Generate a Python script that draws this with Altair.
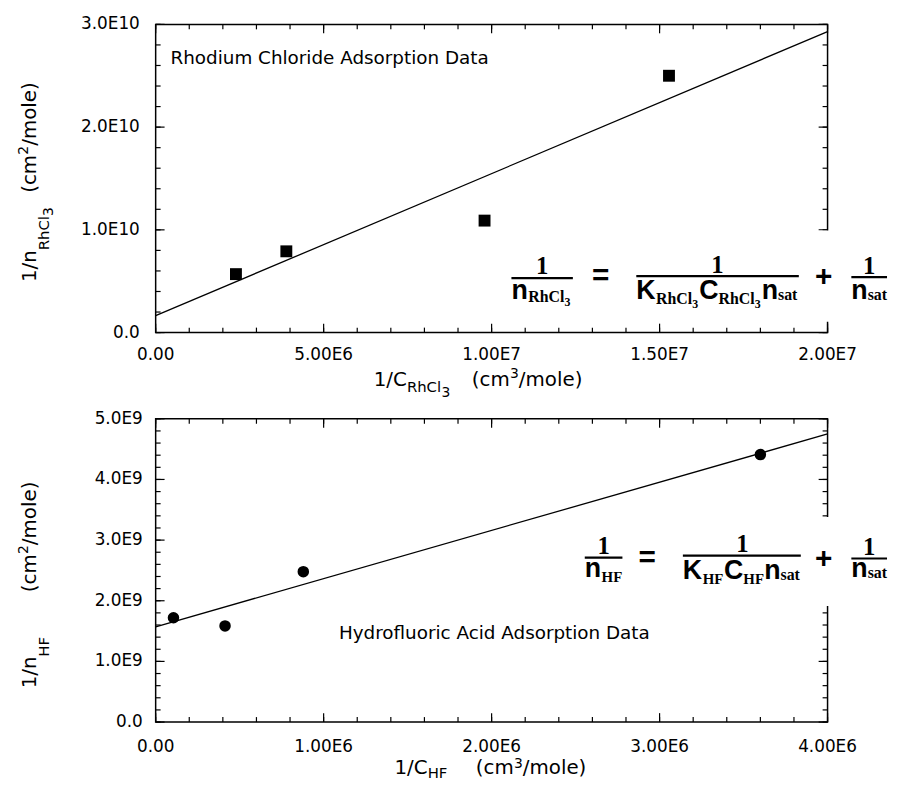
import altair as alt
import pandas as pd

# ---------------- data ----------------
rh_x = [2.39e6, 3.89e6, 9.79e6, 1.528e7]
rh_y = [5.69e9, 7.91e9, 1.09e10, 2.50e10]
rh_fit_x = [0.0, 2.0e7]
rh_fit_y = [1.65e9, 2.93e10]

hf_x = [1.06e5, 4.13e5, 8.79e5, 3.60e6]
hf_y = [1.72e9, 1.585e9, 2.48e9, 4.41e9]
hf_fit_x = [0.0, 4.0e6]
hf_fit_y = [1.57e9, 4.75e9]

rh_xticks = [0.0, 5e6, 1e7, 1.5e7, 2e7]
rh_xlabels = ["0.00", "5.00E6", "1.00E7", "1.50E7", "2.00E7"]
rh_yticks = [0.0, 1e10, 2e10, 3e10]
rh_ylabels = ["0.0", "1.0E10", "2.0E10", "3.0E10"]
hf_xticks = [0.0, 1e6, 2e6, 3e6, 4e6]
hf_xlabels = ["0.00", "1.00E6", "2.00E6", "3.00E6", "4.00E6"]
hf_yticks = [0.0, 1e9, 2e9, 3e9, 4e9, 5e9]
hf_ylabels = ["0.0", "1.0E9", "2.0E9", "3.0E9", "4.0E9", "5.0E9"]
rh_minor = (1e6, 2e9)
hf_minor = (2e5, 2e8)

rh_note = "Rhodium Chloride Adsorption Data"
hf_note = "Hydrofluoric Acid Adsorption Data"

# ---------------- layout ----------------
W = 678
H_TOP = 311
H_BOT = 306
O_TOP = (155, 20)
O_BOT = (155, 418)
GAP = O_BOT[1] - (O_TOP[1] + H_TOP)

MAIN = "DejaVu Sans"
EQ_SANS = "Liberation Sans"
EQ_SERIF = "Liberation Serif"
TICK_FS = 17

rh_note_pos = (4.42e5, 2.614e10)
hf_note_pos = (1.091e6, 1.373e9)

# text pieces in page pixel coordinates: (text, x, y, fontsize)
rh_ytitle = [("1/n", 34, 280, 20), ("RhCl", 47, 248, 15), ("3", 51, 213.4, 14),
             ("(cm", 34, 190, 20), ("2", 26, 151.5, 14), ("/mole)", 34, 142.5, 20)]
hf_ytitle = [("1/n", 34, 690, 20), ("HF", 47, 658, 15),
             ("(cm", 34, 593, 20), ("2", 26, 554.5, 14), ("/mole)", 34, 545.5, 20)]
rh_xtitle = [("1/C", 375, 385, 20), ("RhCl", 408.5, 391, 15), ("3", 443.5, 396, 14),
             ("(cm", 474, 385, 20), ("3", 512.5, 377, 14), ("/mole)", 521.5, 385, 20)]
hf_xtitle = [("1/C", 396, 776, 20), ("HF", 429.5, 780, 15),
             ("(cm", 478, 776, 20), ("3", 516.5, 770, 14), ("/mole)", 525.5, 776, 20)]

rh_eq = {
    "sans": [("n", 514, 297, 27), ("K", 640, 297, 27), ("C", 703.5, 297, 27),
             ("n", 766.5, 297, 27), ("n", 857, 297, 27)],
    "serif": [("RhCl", 531, 300, 16), ("3", 567.5, 304, 12), ("RhCl", 660, 302, 16),
              ("3", 696.5, 306, 12), ("RhCl", 723, 302, 16), ("3", 759.5, 306, 12),
              ("sat", 783, 298, 16), ("sat", 873.5, 298, 16)],
    "num": [("1", 545, 272, 25), ("1", 722, 271, 25), ("1", 875, 272, 25)],
    "ops": [("=", 604, 283, 30), ("+", 829, 284, 30)],
    "bars": [(514, 576, 276), (640, 804, 274), (857, 893, 275)],
    "box": (505, 228, 893, 320),
}
hf_eq = {
    "sans": [("n", 588, 578, 27), ("K", 687, 580, 27), ("C", 728.5, 580, 27),
             ("n", 769, 580, 27), ("n", 857, 578, 27)],
    "serif": [("HF", 605, 583, 15), ("HF", 707, 585, 15), ("HF", 748, 585, 15),
              ("sat", 785.5, 581, 16), ("sat", 873.5, 579, 16)],
    "num": [("1", 607, 554, 25), ("1", 747, 552, 25), ("1", 875, 555, 25)],
    "ops": [("=", 651, 568, 30), ("+", 829, 569, 30)],
    "bars": [(588, 626, 558), (687, 806, 556), (857, 893, 559)],
    "box": (580, 517, 893, 607),
}


def steps(lo, hi, step):
    n = int(round((hi - lo) / step))
    return [lo + i * step for i in range(n + 1)]


def to_df(items, origin):
    ox, oy = origin
    return pd.DataFrame({
        "t": [i[0] for i in items],
        "px": [i[1] - ox for i in items],
        "py": [i[2] - oy for i in items],
        "fs": [i[3] for i in items],
    })


def text_layer(items, origin, font, weight="normal", align="left", angle=0):
    return alt.Chart(to_df(items, origin)).mark_text(
        font=font, fontWeight=weight, align=align, baseline="alphabetic",
        angle=angle, color="black"
    ).encode(
        x=alt.X("px:Q", scale=None, axis=None),
        y=alt.Y("py:Q", scale=None, axis=None),
        text=alt.Text("t:N"),
        size=alt.Size("fs:Q", scale=None, legend=None),
    )


def panel(px, py, fx, fy, kind, xt, xl, yt, yl, minor, H, origin,
          note, note_pos, ytitle, xtitle, eq, ylab_pad, xlab_pad):
    ox, oy = origin
    xs = alt.Scale(domain=[xt[0], xt[-1]], nice=False, zero=False)
    ys = alt.Scale(domain=[yt[0], yt[-1]], nice=False, zero=False)
    X = lambda f: alt.X(f, scale=xs, axis=None)
    Y = lambda f: alt.Y(f, scale=ys, axis=None)

    layers = []
    # tick marks on all four sides, pointing inward
    xmin = steps(xt[0], xt[-1], minor[0])
    ymin = steps(yt[0], yt[-1], minor[1])
    for vals, size in ((xt, 9), (xmin, 5)):
        base = alt.Chart(pd.DataFrame({"v": vals})).mark_rule(color="black", strokeWidth=1.2)
        layers.append(base.encode(x=X("v:Q"), y=alt.value(H), y2=alt.value(H - size)))
        layers.append(base.encode(x=X("v:Q"), y=alt.value(0), y2=alt.value(size)))
    for vals, size in ((yt, 9), (ymin, 5)):
        base = alt.Chart(pd.DataFrame({"v": vals})).mark_rule(color="black", strokeWidth=1.2)
        layers.append(base.encode(y=Y("v:Q"), x=alt.value(0), x2=alt.value(size)))
        layers.append(base.encode(y=Y("v:Q"), x=alt.value(W), x2=alt.value(W - size)))

    # tick labels, positioned through the scales
    layers.append(alt.Chart(pd.DataFrame({"v": xt, "lab": xl})).mark_text(
        font=MAIN, fontSize=TICK_FS, align="center", baseline="top", color="black"
    ).encode(x=X("v:Q"), y=alt.value(H + xlab_pad), text="lab:N"))
    layers.append(alt.Chart(pd.DataFrame({"v": yt, "lab": yl})).mark_text(
        font=MAIN, fontSize=TICK_FS, align="right", baseline="middle", color="black"
    ).encode(y=Y("v:Q"), x=alt.value(-ylab_pad), text="lab:N"))

    # fitted line
    layers.append(alt.Chart(pd.DataFrame({"x": fx, "y": fy})).mark_line(
        color="black", strokeWidth=1.3).encode(x=X("x:Q"), y=Y("y:Q")))
    # data points
    pts = alt.Chart(pd.DataFrame({"x": px, "y": py}))
    if kind == "square":
        pts = pts.mark_square(size=144, color="black", opacity=1)
    else:
        pts = pts.mark_circle(size=135, color="black", opacity=1)
    layers.append(pts.encode(x=X("x:Q"), y=Y("y:Q")))
    # note
    layers.append(alt.Chart(pd.DataFrame({"x": [note_pos[0]], "y": [note_pos[1]], "t": [note]}))
                  .mark_text(font=MAIN, fontSize=18.5, align="left", baseline="alphabetic",
                             color="black")
                  .encode(x=X("x:Q"), y=Y("y:Q"), text="t:N"))
    # white box behind the equation
    bx = eq["box"]
    layers.append(alt.Chart(pd.DataFrame({"x1": [bx[0] - ox], "x2": [bx[2] - ox],
                                          "y1": [bx[1] - oy], "y2": [bx[3] - oy]}))
                  .mark_rect(color="white")
                  .encode(x=alt.X("x1:Q", scale=None, axis=None), x2="x2:Q",
                          y=alt.Y("y1:Q", scale=None, axis=None), y2="y2:Q"))
    # equation
    layers.append(text_layer(eq["sans"], origin, EQ_SANS, "bold"))
    layers.append(text_layer(eq["serif"], origin, EQ_SERIF, "bold"))
    layers.append(text_layer(eq["num"], origin, EQ_SERIF, "bold", "center"))
    layers.append(text_layer(eq["ops"], origin, EQ_SANS, "bold", "center"))
    bars = eq["bars"]
    layers.append(alt.Chart(pd.DataFrame({"x1": [b[0] - ox for b in bars],
                                          "x2": [b[1] - ox for b in bars],
                                          "y": [b[2] - oy for b in bars]}))
                  .mark_rule(color="black", strokeWidth=2.2)
                  .encode(x=alt.X("x1:Q", scale=None, axis=None), x2="x2:Q",
                          y=alt.Y("y:Q", scale=None, axis=None)))
    # axis titles with sub/superscripts
    layers.append(text_layer(ytitle, origin, MAIN, angle=270))
    layers.append(text_layer(xtitle, origin, MAIN))
    return alt.layer(*layers).properties(width=W, height=H)


top = panel(rh_x, rh_y, rh_fit_x, rh_fit_y, "square", rh_xticks, rh_xlabels,
            rh_yticks, rh_ylabels, rh_minor, H_TOP, O_TOP, rh_note, rh_note_pos,
            rh_ytitle, rh_xtitle, rh_eq, 16, 15)
bottom = panel(hf_x, hf_y, hf_fit_x, hf_fit_y, "circle", hf_xticks, hf_xlabels,
               hf_yticks, hf_ylabels, hf_minor, H_BOT, O_BOT, hf_note, hf_note_pos,
               hf_ytitle, hf_xtitle, hf_eq, 13, 17)

# white anchors fixing the page extents (top-left and bottom)
anchor_top = alt.Chart(pd.DataFrame({"a": [0]})).mark_rule(color="white", strokeWidth=1).encode(
    x=alt.value(8 - O_TOP[0]), x2=alt.value(9 - O_TOP[0]), y=alt.value(8.5 - O_TOP[1]))
anchor_bot = alt.Chart(pd.DataFrame({"a": [0]})).mark_rule(color="white", strokeWidth=1).encode(
    x=alt.value(8 - O_BOT[0]), x2=alt.value(9 - O_BOT[0]), y=alt.value(783.5 - O_BOT[1]))

top = alt.layer(top, anchor_top)
bottom = alt.layer(bottom, anchor_bot)

chart = alt.vconcat(top, bottom, spacing=GAP, bounds="flush").properties(
    padding=0, background="white"
).configure_view(stroke="black", strokeWidth=1.5)

chart.save("out.html", embed_options={"renderer": "svg", "actions": False})
